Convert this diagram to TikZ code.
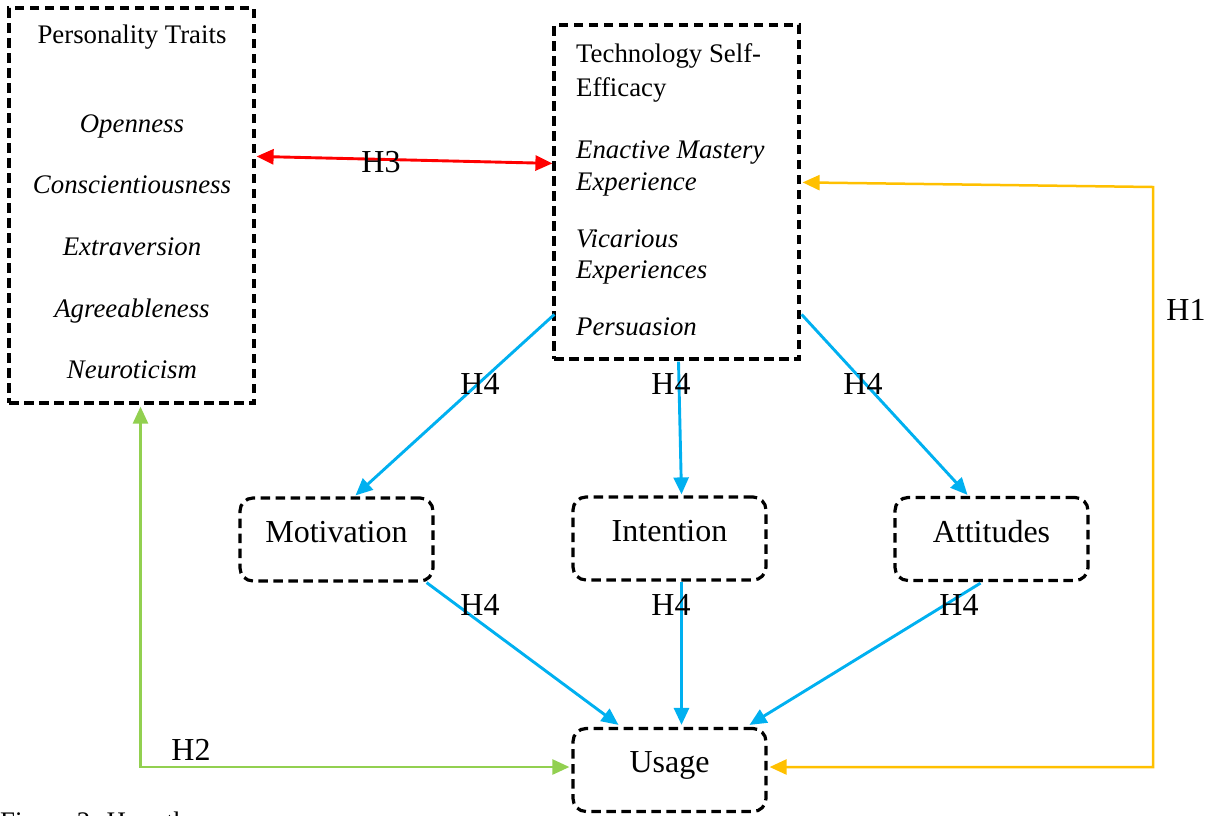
\documentclass[tikz,border=0pt]{standalone}
\usepackage{fontspec}
\setmainfont{Liberation Serif}
\usetikzlibrary{arrows.meta,calc}
\definecolor{hred}{HTML}{FF0000}
\definecolor{hyellow}{HTML}{FFC000}
\definecolor{hgreen}{HTML}{92D050}
\definecolor{hblue}{HTML}{00B0F0}
\begin{document}
\begin{tikzpicture}[x=1pt,y=-1pt,
  box/.style={draw,dash pattern=on 9.5pt off 5.5pt,line width=3.2pt,inner sep=0pt},
  rbox/.style={box,rounded corners=13pt,minimum width=193pt,minimum height=83pt,text depth=16pt,font=\fontsize{32}{36}\selectfont},
  lbl/.style={anchor=base,inner sep=0pt,font=\fontsize{32}{36}\selectfont},
  small/.style={anchor=base,inner sep=0pt,font=\fontsize{26.8}{30}\selectfont},
  tsetext/.style={small,anchor=base west},
  arr/.style={line width=2.9pt,-{Triangle[length=17pt,width=15pt]}},
  darr/.style={line width=2.9pt,{Triangle[length=17pt,width=15pt]}-{Triangle[length=17pt,width=15pt]}}]
\useasboundingbox (0,0) rectangle (1209,815);
\clip (0,0) rectangle (1209,815);
% boxes
\node[box,minimum width=245pt,minimum height=395pt] (pt) at (131.5,205.5) {};
\node[box,minimum width=245pt,minimum height=334pt] (tse) at (676.5,192) {};
\node[rbox] (mot) at (336.5,539.5) {Motivation};
\node[rbox] (int) at (669.5,538.5) {Intention};
\node[rbox] (att) at (991.5,539) {Attitudes};
\node[rbox] (use) at (669.5,770) {Usage};
% personality texts
\node[small] (pt0) at (132,43) {Personality Traits};
\node[small] (pt1) at (132,132) {\itshape Openness};
\node[small] (pt2) at (132,193) {\itshape Conscientiousness};
\node[small] (pt3) at (132,255) {\itshape Extraversion};
\node[small] (pt4) at (132,317) {\itshape Agreeableness};
\node[small] (pt5) at (132,378) {\itshape Neuroticism};
% TSE texts
\node[tsetext] (t0) at (576,62) {Technology Self-};
\node[tsetext] (t1) at (576,96) {Efficacy};
\node[tsetext] (t2) at (576,158) {\itshape Enactive Mastery};
\node[tsetext] (t3) at (576,190) {\itshape Experience};
\node[tsetext] (t4) at (576,247) {\itshape Vicarious};
\node[tsetext] (t5) at (576,278) {\itshape Experiences};
\node[tsetext] (t6) at (576,335) {\itshape Persuasion};
% H3
\draw[darr,hred] ($(pt.north east)+(1,150)$) -- ($(tse.north west)+(0,140)$);
\node[lbl] (h3) at (381,172) {H3};
% H1
\coordinate (h1a) at (1153,187);
\coordinate (h1b) at (1153,767);
\draw[darr,hyellow,line width=2.5pt] ($(tse.north east)+(2,159)$) -- (h1a) -- (h1b) -- ($(use.east)+(2,-3)$);
\node[lbl] (h1) at (1186,320) {H1};
% H2
\coordinate (h2a) at (140.5,767);
\draw[darr,hgreen,line width=2.5pt] ($(pt.south)+(9,2)$) -- (h2a) -- ($(use.west)+(-2,-3)$);
\node[lbl] (h2) at (191,760) {H2};
% H4 upper
\draw[arr,hblue] ($(tse.north west)+(2,291)$) -- ($(mot.north)+(19,-1)$);
\draw[arr,hblue] ($(tse.south)+(2,1)$) -- ($(int.north)+(12,-1)$);
\draw[arr,hblue] ($(tse.north east)+(1,291)$) -- ($(att.north)+(-24,-1)$);
\node[lbl] (h4a) at (480,394) {H4};
\node[lbl] (h4b) at (671,394) {H4};
\node[lbl] (h4c) at (863,394) {H4};
% H4 lower
\draw[arr,hblue] ($(mot.south east)+(-8,0)$) -- ($(use.north)+(-51,-2)$);
\draw[arr,hblue] ($(int.south)+(12,0)$) -- ($(use.north)+(12,-2)$);
\draw[arr,hblue] ($(att.south)+(-11,1)$) -- ($(use.north)+(80,-2)$);
\node[lbl] (h4d) at (480,615) {H4};
\node[lbl] (h4e) at (671,615) {H4};
\node[lbl] (h4f) at (959,615) {H4};
% caption (cut off by the picture's edge, as in the reference)
\node[small,anchor=base west] (cap) at (0,830) {Figure 2: Hypotheses};
\end{tikzpicture}
\end{document}
